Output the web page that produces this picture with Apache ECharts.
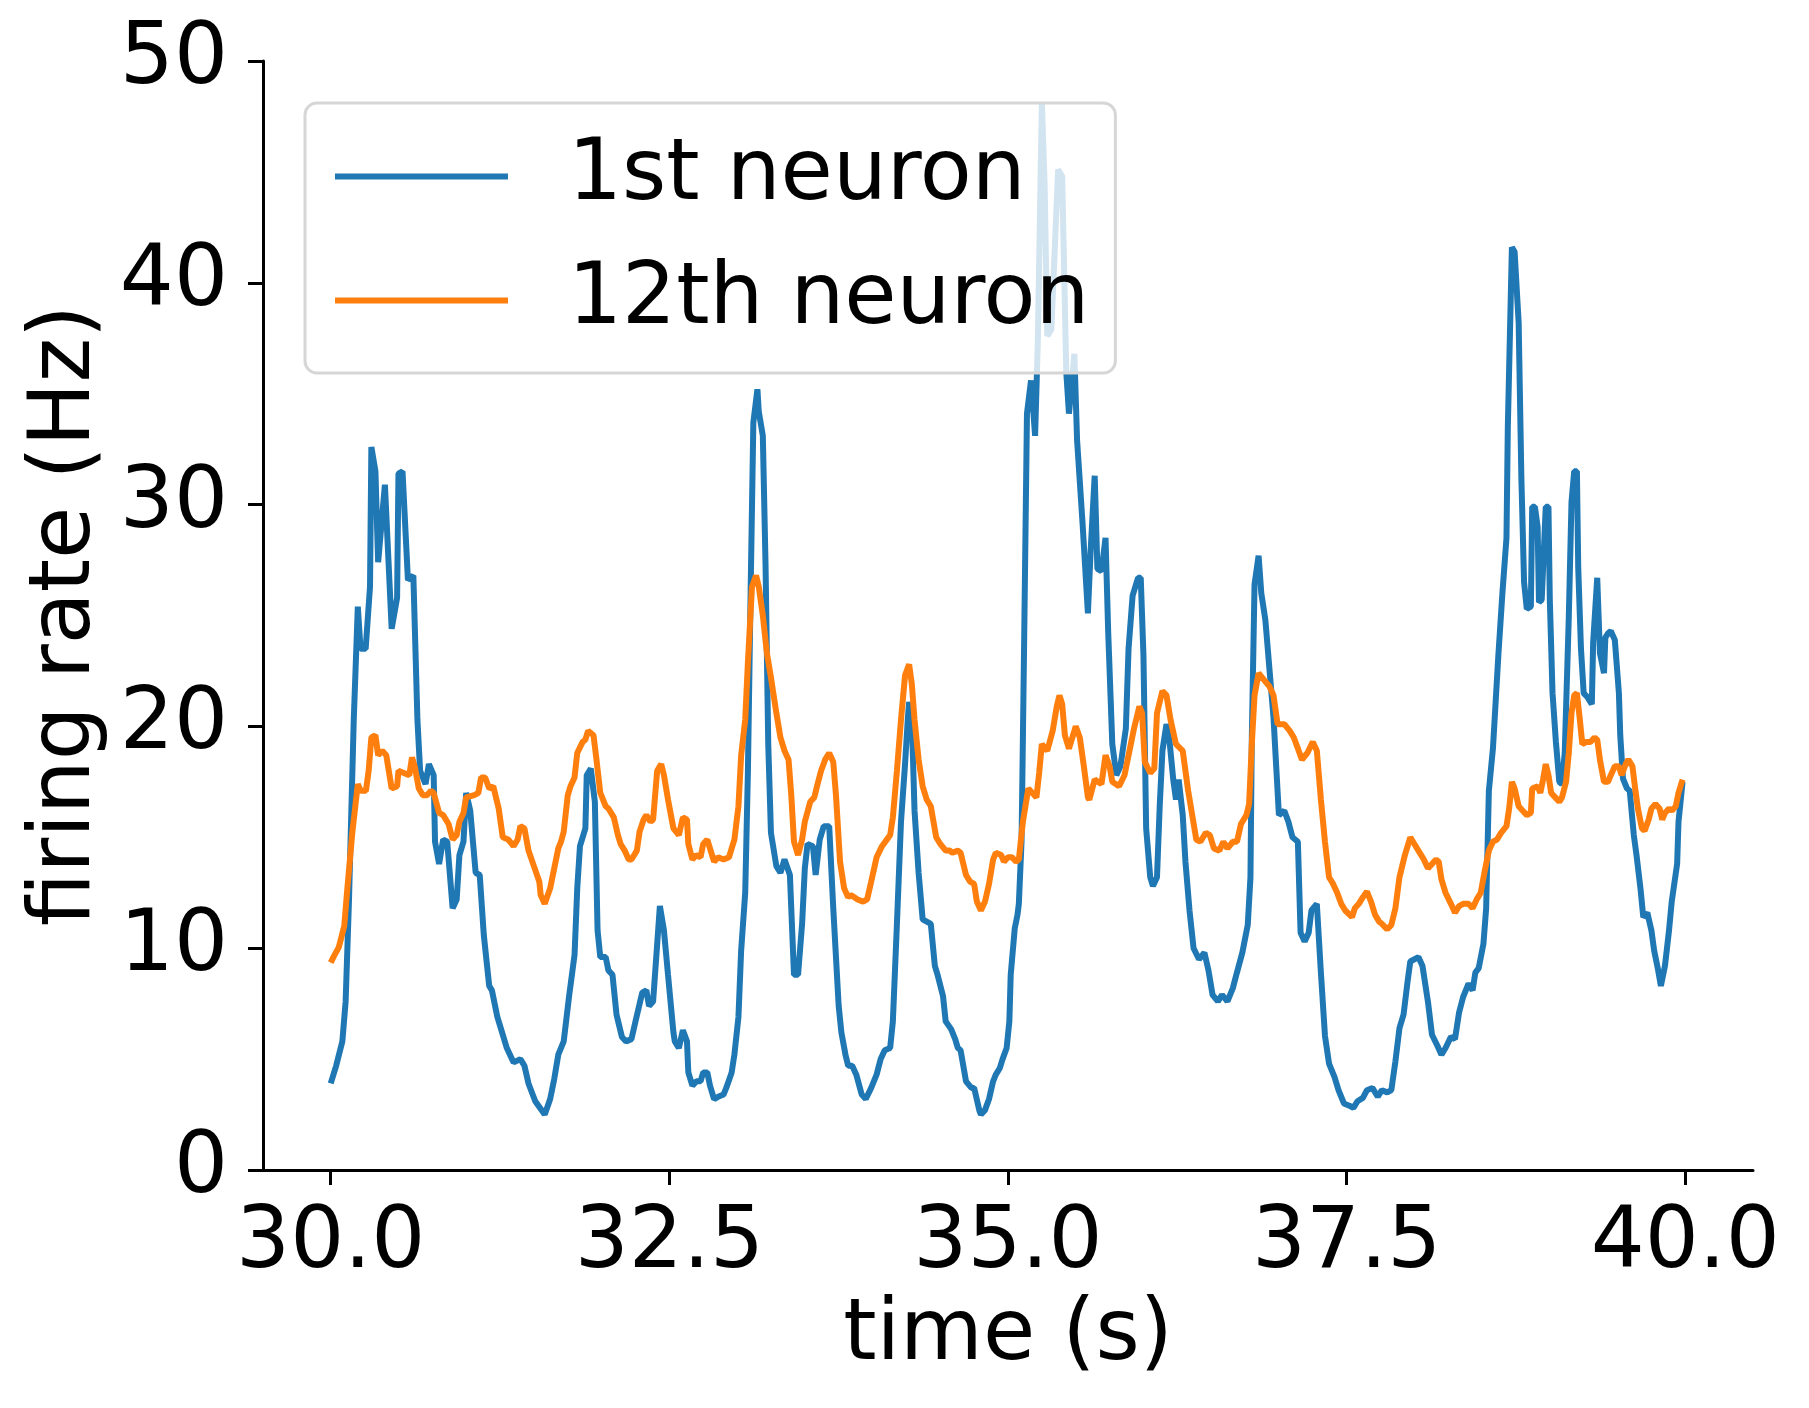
<!DOCTYPE html>
<html>
<head>
<meta charset="utf-8">
<script src="https://cdn.jsdelivr.net/npm/echarts@6/dist/echarts.min.js"></script>
<style>
html,body{margin:0;padding:0;background:#fff;}
#chart{width:1809px;height:1408px;}
</style>
</head>
<body>
<div id="chart"></div>
<script>
const xTicks = [30, 32.5, 35, 37.5, 40];
const seriesNames = ['1st neuron', '12th neuron'];

const blueT = [30.00,30.04,30.086,30.11,30.135,30.17,30.20,30.22,30.258,30.29,30.30,30.33,30.35,30.40,30.45,30.49,30.50,30.53,30.57,30.61,30.64,30.66,30.70,30.725,30.76,30.77,30.80,30.83,30.86,30.90,30.93,30.95,30.98,31.00,31.03,31.07,31.10,31.13,31.17,31.19,31.23,31.27,31.30,31.35,31.40,31.43,31.46,31.51,31.58,31.62,31.65,31.68,31.72,31.76,31.80,31.82,31.84,31.88,31.89,31.92,31.95,31.97,31.99,32.03,32.05,32.08,32.11,32.15,32.18,32.22,32.25,32.30,32.33,32.35,32.38,32.43,32.46,32.49,32.53,32.54,32.57,32.60,32.63,32.64,32.67,32.70,32.73,32.75,32.78,32.80,32.83,32.86,32.90,32.92,32.96,32.98,33.01,33.03,33.06,33.08,33.10,33.12,33.15,33.16,33.19,33.21,33.23,33.25,33.29,33.32,33.35,33.39,33.42,33.45,33.48,33.50,33.52,33.56,33.58,33.61,33.64,33.68,33.71,33.75,33.77,33.80,33.82,33.85,33.88,33.92,33.95,33.99,34.03,34.06,34.09,34.13,34.15,34.18,34.21,34.24,34.26,34.27,34.29,34.31,34.34,34.37,34.40,34.43,34.46,34.48,34.52,34.54,34.58,34.61,34.63,34.65,34.69,34.73,34.75,34.79,34.80,34.83,34.86,34.89,34.91,34.94,34.96,34.99,35.01,35.02,35.05,35.07,35.08,35.10,35.12,35.14,35.17,35.20,35.22,35.25,35.27,35.29,35.32,35.37,35.40,35.43,35.45,35.49,35.51,35.55,35.59,35.61,35.64,35.66,35.69,35.72,35.74,35.77,35.80,35.83,35.87,35.89,35.92,35.96,35.98,36.00,36.02,36.05,36.07,36.10,36.12,36.14,36.17,36.19,36.22,36.24,36.26,36.29,36.31,36.34,36.37,36.41,36.45,36.48,36.51,36.55,36.58,36.62,36.66,36.69,36.73,36.77,36.79,36.80,36.82,36.85,36.87,36.90,36.93,36.96,36.98,37.00,37.04,37.07,37.10,37.14,37.16,37.19,37.22,37.24,37.28,37.31,37.34,37.37,37.41,37.44,37.48,37.52,37.55,37.58,37.62,37.65,37.69,37.73,37.76,37.80,37.83,37.86,37.89,37.92,37.95,37.97,38.03,38.06,38.10,38.13,38.17,38.20,38.23,38.27,38.30,38.33,38.36,38.40,38.43,38.45,38.475,38.51,38.53,38.55,38.58,38.62,38.65,38.68,38.69,38.72,38.74,38.77,38.79,38.81,38.83,38.86,38.87,38.89,38.91,38.92,38.94,38.97,38.99,39.00,39.02,39.045,39.07,39.09,39.11,39.14,39.16,39.18,39.20,39.21,39.23,39.25,39.28,39.31,39.32,39.35,39.37,39.40,39.41,39.43,39.45,39.48,39.51,39.52,39.54,39.57,39.59,39.62,39.64,39.67,39.69,39.72,39.75,39.77,39.80,39.82,39.85,39.88,39.90,39.94,39.95,39.98];
const blueV = [3.9,4.7,5.8,7.6,12.2,20.3,25.4,23.5,23.5,26.3,32.6,31.5,27.4,30.9,24.4,25.8,31.4,31.5,26.6,26.8,20.3,18.0,17.4,18.3,17.8,14.8,13.8,14.9,14.8,11.8,12.2,14.2,14.8,17.0,16.2,13.4,13.3,10.6,8.3,8.1,6.9,6.1,5.5,4.85,5.0,4.7,3.9,3.1,2.5,3.2,4.1,5.2,5.8,7.85,9.7,12.7,14.6,15.4,17.8,18.1,16.6,10.8,9.6,9.6,9.0,8.8,7.0,6.0,5.8,5.9,6.7,8.0,8.1,7.4,7.6,11.9,10.8,8.8,6.2,5.8,5.5,6.3,5.8,4.4,3.8,4.0,4.0,4.4,4.4,3.8,3.2,3.3,3.4,3.7,4.4,5.2,6.9,9.9,12.5,18.0,26.1,33.7,35.2,34.2,33.1,27.3,19.2,15.2,13.7,13.4,14.0,13.3,8.8,8.8,11.1,13.6,14.7,14.6,13.3,14.9,15.5,15.5,11.8,7.4,6.2,5.2,4.7,4.7,4.3,3.4,3.2,3.7,4.3,5.0,5.4,5.5,6.7,11.1,15.7,18.3,20.3,21.1,20.3,16.2,13.4,11.3,11.2,11.1,9.2,8.8,7.85,6.7,6.35,5.9,5.5,5.4,4.0,3.7,3.7,2.65,2.5,2.7,3.2,4.0,4.3,4.6,5.0,5.5,6.7,8.8,10.9,11.5,12.0,14.8,24.2,34.1,35.6,33.1,37.3,48.1,44.5,37.6,37.9,45.1,44.8,36.0,34.1,36.8,32.9,29.2,25.1,27.9,31.3,27.1,27.0,28.5,24.2,19.2,17.8,18.2,19.9,23.5,25.9,26.7,26.7,23.2,15.4,13.2,12.8,13.2,16.4,18.9,20.1,19.5,17.6,16.7,17.6,16.0,13.9,11.7,10.0,9.5,9.8,9.0,7.9,7.6,7.9,7.6,8.2,8.9,9.8,11.05,13.2,19.5,26.4,27.7,26.0,24.8,22.6,20.4,18.2,16.0,16.2,15.7,15.0,14.8,10.7,10.3,10.7,11.7,12.0,8.9,6.05,4.8,4.2,3.6,3.0,2.9,2.8,3.1,3.25,3.6,3.7,3.3,3.6,3.5,3.6,4.9,6.4,7.0,8.5,9.4,9.6,9.2,7.6,6.1,5.6,5.2,5.5,6.0,5.9,7.1,7.8,8.4,8.1,8.9,9.1,10.2,11.8,17.1,19.0,23.2,26.0,28.5,33.5,41.6,41.4,38.2,31.2,26.5,25.3,25.4,29.9,29.9,29.0,25.6,25.7,29.9,29.9,25.7,21.5,19.3,17.5,17.4,18.8,24.9,30.1,31.5,31.5,27.1,23.5,21.5,21.3,21.0,23.8,26.7,23.3,22.4,24.0,24.2,24.3,23.9,21.5,19.6,17.65,17.2,17.1,15.1,14.2,12.65,11.4,11.6,10.8,9.9,9.0,8.3,9.2,10.8,12.1,13.8,15.7,17.5];

const orangeT = [30.00,30.02,30.06,30.10,30.12,30.16,30.20,30.22,30.26,30.28,30.30,30.33,30.35,30.38,30.41,30.45,30.49,30.50,30.54,30.58,30.60,30.62,30.65,30.68,30.71,30.74,30.76,30.80,30.83,30.87,30.90,30.93,30.95,30.98,31.00,31.06,31.09,31.11,31.14,31.17,31.20,31.24,31.27,31.31,31.35,31.38,31.40,31.43,31.46,31.50,31.54,31.55,31.58,31.62,31.65,31.68,31.70,31.72,31.75,31.77,31.80,31.82,31.86,31.88,31.90,31.94,31.96,31.99,32.03,32.05,32.09,32.12,32.14,32.17,32.20,32.22,32.26,32.28,32.31,32.33,32.36,32.38,32.41,32.44,32.46,32.49,32.53,32.57,32.60,32.63,32.64,32.67,32.70,32.73,32.75,32.78,32.80,32.83,32.86,32.90,32.94,32.96,32.98,33.01,33.03,33.06,33.08,33.11,33.14,33.16,33.19,33.22,33.25,33.29,33.32,33.35,33.38,33.40,33.42,33.45,33.48,33.50,33.54,33.57,33.59,33.62,33.65,33.68,33.71,33.73,33.76,33.79,33.82,33.84,33.89,33.93,33.96,33.99,34.03,34.07,34.10,34.13,34.15,34.18,34.21,34.24,34.27,34.29,34.31,34.34,34.37,34.40,34.43,34.47,34.50,34.54,34.57,34.59,34.63,34.65,34.69,34.72,34.75,34.77,34.80,34.83,34.86,34.89,34.91,34.95,34.97,35.00,35.03,35.06,35.08,35.11,35.15,35.18,35.21,35.23,35.25,35.29,35.33,35.36,35.38,35.40,35.42,35.45,35.48,35.50,35.53,35.56,35.59,35.60,35.64,35.69,35.72,35.75,35.77,35.82,35.86,35.90,35.93,35.97,35.99,36.01,36.05,36.08,36.10,36.14,36.17,36.20,36.24,36.29,36.33,36.36,36.39,36.42,36.46,36.49,36.52,36.56,36.59,36.62,36.66,36.69,36.72,36.76,36.78,36.80,36.82,36.85,36.89,36.93,36.96,36.99,37.04,37.08,37.11,37.14,37.17,37.21,37.25,37.28,37.31,37.34,37.37,37.40,37.43,37.46,37.49,37.54,37.56,37.59,37.62,37.65,37.68,37.71,37.74,37.76,37.80,37.83,37.86,37.89,37.93,37.97,38.00,38.04,38.07,38.10,38.13,38.16,38.18,38.20,38.23,38.27,38.30,38.33,38.36,38.40,38.43,38.46,38.49,38.52,38.55,38.58,38.61,38.64,38.68,38.70,38.72,38.74,38.77,38.80,38.83,38.86,38.87,38.91,38.93,38.95,38.97,38.99,39.01,39.04,39.07,39.09,39.12,39.14,39.16,39.18,39.20,39.22,39.24,39.27,39.30,39.33,39.35,39.37,39.40,39.43,39.45,39.48,39.51,39.53,39.56,39.58,39.61,39.63,39.65,39.68,39.70,39.73,39.75,39.78,39.81,39.83,39.85,39.88,39.90,39.93,39.95,39.98];
const orangeV = [9.35,9.6,10.05,11.0,12.5,15.25,17.4,17.1,17.1,18.0,19.5,19.6,18.7,18.9,18.7,17.2,17.3,18.0,17.9,17.8,18.6,18.2,17.2,16.9,16.9,17.1,17.0,16.1,16.0,15.6,14.9,15.1,15.7,16.1,16.8,16.9,17.0,17.7,17.7,17.2,17.3,16.3,15.0,14.9,14.6,14.9,15.5,15.4,14.4,13.7,13.0,12.4,12.0,12.7,13.6,14.5,14.8,15.25,16.9,17.3,17.7,18.8,19.3,19.4,19.8,19.6,18.6,17.0,16.4,16.3,15.9,15.1,14.7,14.4,14.0,14.0,14.4,15.25,15.8,16.0,15.7,15.8,18.0,18.3,17.8,16.7,15.4,15.1,15.9,15.8,14.7,14.0,14.2,14.1,14.7,14.9,14.5,13.9,14.1,14.0,14.1,14.5,14.9,16.4,18.7,20.3,22.9,26.3,26.8,26.3,25.0,23.3,22.2,20.6,19.5,18.9,18.5,16.9,14.8,14.2,14.9,15.7,16.6,16.8,17.3,18.0,18.5,18.8,18.4,16.9,13.9,12.7,12.3,12.4,12.2,12.1,12.2,13.0,14.1,14.6,14.85,15.1,15.9,18.0,20.3,22.3,22.8,21.9,20.3,18.5,17.3,16.7,16.4,15.0,14.7,14.4,14.4,14.3,14.4,14.3,13.3,13.0,12.9,12.1,11.7,12.1,12.9,14.0,14.3,14.2,13.9,14.1,14.1,13.9,14.0,15.7,17.2,17.0,16.8,17.9,19.2,18.9,19.8,20.9,21.4,21.0,19.6,19.0,19.6,20.0,19.5,18.2,16.8,16.7,17.6,17.4,18.7,18.2,17.5,17.3,17.8,19.0,19.9,20.9,20.6,18.4,17.9,18.1,20.6,21.6,21.4,20.3,19.2,18.9,17.1,16.0,14.9,14.8,15.2,15.1,14.5,14.4,14.8,14.5,14.8,14.8,15.6,16.0,16.5,19.2,21.4,22.4,22.1,21.8,21.4,20.1,20.1,19.8,19.5,19.0,18.5,18.8,19.3,18.9,16.7,14.8,13.2,12.9,12.5,12.0,11.7,11.4,11.8,12.0,12.3,12.55,12.1,11.5,11.2,11.1,10.85,11.05,11.8,13.2,14.2,15.0,14.7,14.3,14.0,13.6,13.8,14.0,13.9,13.1,12.5,12.0,11.6,11.9,12.0,12.0,11.8,12.2,12.5,13.5,14.4,14.8,14.9,15.2,15.5,16.3,17.5,17.2,16.4,16.2,16.0,16.1,17.2,17.3,17.0,17.6,18.3,17.8,17.0,16.8,16.6,16.8,17.5,18.8,20.6,21.4,21.5,20.4,19.2,19.3,19.3,19.5,19.4,18.5,17.5,17.5,17.8,18.2,18.2,17.8,18.3,18.5,18.2,17.2,16.3,15.4,15.3,15.8,16.3,16.5,16.3,15.8,16.1,16.3,16.2,16.4,17.0,17.6];

function pairs(t, v) { return t.map((x, i) => [x, v[i]]); }

const FONT = 'DejaVu Sans';
const BLUE = '#1f77b4', ORANGE = '#ff7f0e';
const chart = echarts.init(document.getElementById('chart'), null, {renderer: 'canvas'});
chart.setOption({
  animation: false,
  backgroundColor: '#ffffff',
  grid: {left: 263, right: 56, top: 61, bottom: 238, containLabel: false},
  legend: {
    orient: 'vertical',
    left: 305, top: 103,
    icon: 'rect',
    itemWidth: 173, itemHeight: 6, itemGap: 39,
    padding: [31, 26, 30, 30],
    backgroundColor: 'rgba(255,255,255,0.8)',
    borderColor: '#d6d6d6', borderWidth: 3, borderRadius: 12,
    textStyle: {fontFamily: FONT, fontSize: 85, color: '#000', padding: [0, 0, 0, 55]},
    data: [
      {name: seriesNames[0], itemStyle: {color: BLUE}},
      {name: seriesNames[1], itemStyle: {color: ORANGE}}
    ]
  },
  xAxis: {
    type: 'value', min: 29.5, max: 40.5,
    name: 'time (s)', nameLocation: 'middle', nameGap: 124,
    nameTextStyle: {fontFamily: FONT, fontSize: 85, color: '#000'},
    axisLine: {show: true, lineStyle: {color: '#000', width: 3}},
    axisTick: {show: true, length: 15, lineStyle: {color: '#000', width: 3}, customValues: xTicks},
    axisLabel: {fontFamily: FONT, fontSize: 85, color: '#000', margin: 32, customValues: xTicks,
      formatter: v => v.toFixed(1)},
    splitLine: {show: false}
  },
  yAxis: {
    type: 'value', min: 0, max: 50, interval: 10,
    name: 'firing rate (Hz)', nameLocation: 'middle', nameGap: 132,
    nameTextStyle: {fontFamily: FONT, fontSize: 85, color: '#000'},
    axisLine: {show: true, lineStyle: {color: '#000', width: 3}},
    axisTick: {show: true, length: 15, lineStyle: {color: '#000', width: 3}},
    axisLabel: {fontFamily: FONT, fontSize: 85, color: '#000', margin: 35},
    splitLine: {show: false}
  },
  series: [
    {name: seriesNames[0], type: 'line', data: pairs(blueT, blueV), symbol: 'none', showSymbol: false,
     lineStyle: {color: BLUE, width: 6}, itemStyle: {color: BLUE}},
    {name: seriesNames[1], type: 'line', data: pairs(orangeT, orangeV), symbol: 'none', showSymbol: false,
     lineStyle: {color: ORANGE, width: 6}, itemStyle: {color: ORANGE}}
  ]
});
</script>
</body>
</html>
